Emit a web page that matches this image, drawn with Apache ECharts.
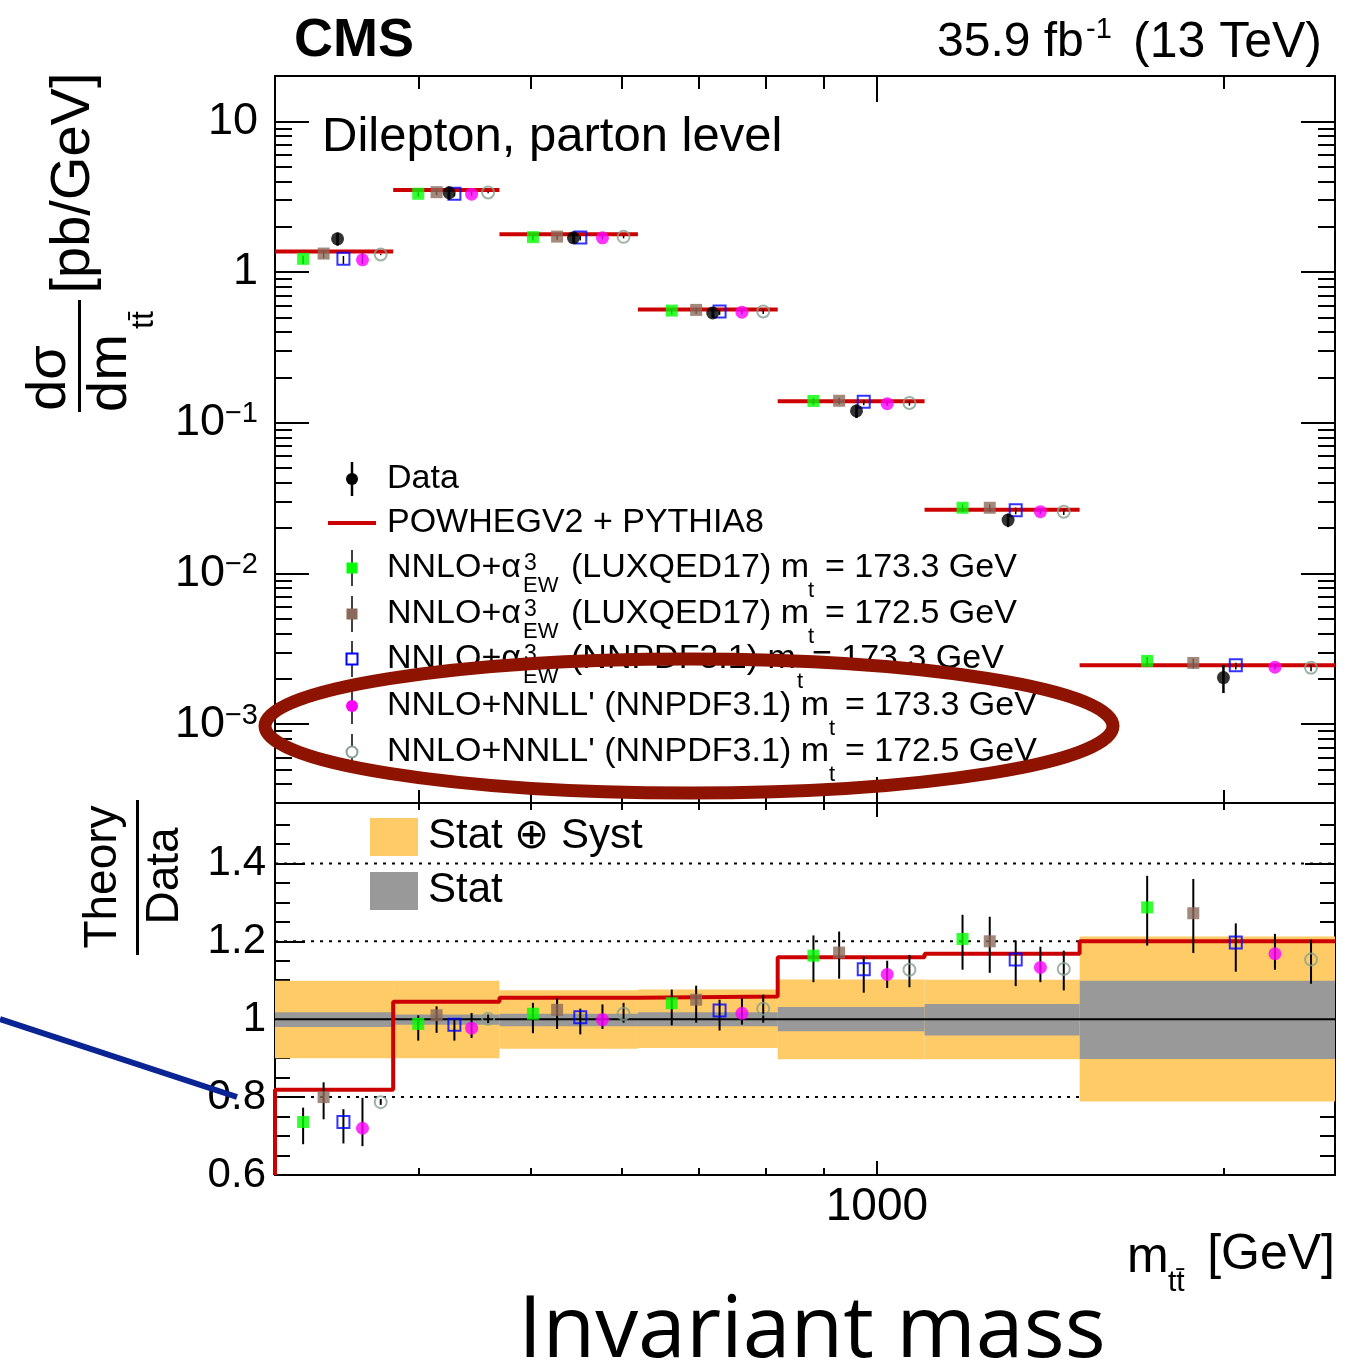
<!DOCTYPE html>
<html><head><meta charset="utf-8">
<script src="https://cdn.jsdelivr.net/npm/echarts@6/dist/echarts.min.js"></script>
<style>html,body{margin:0;padding:0;background:#fff}#c{width:1360px;height:1372px}</style>
</head><body><div id="c"></div>
<script>
// ---------------- DATA ----------------
const binEdges = [300, 380, 470, 620, 820, 1100, 1500, 2500];           // m_tt [GeV]
const xMajorTicks = [1000];
const xMinorTicks = [400, 500, 600, 700, 800, 900, 2000];
const yTopMajorTicks = [0.001, 0.01, 0.1, 1, 10];
const yTopMinorTicks = [0.0003,0.0004,0.0005,0.0006,0.0007,0.0008,0.0009,
  0.002,0.003,0.004,0.005,0.006,0.007,0.008,0.009,
  0.02,0.03,0.04,0.05,0.06,0.07,0.08,0.09,
  0.2,0.3,0.4,0.5,0.6,0.7,0.8,0.9,
  2,3,4,5,6,7,8,9];
const yRatioMajorTicks = [0.6, 0.8, 1.0, 1.2, 1.4];
const yRatioMinorTicks = [0.65,0.7,0.75,0.85,0.9,0.95,1.05,1.1,1.15,1.25,1.3,1.35,1.45,1.5];
const yRatioDotted = [0.8, 1.2, 1.4];

// top panel: dsigma/dm [pb/GeV]
const dataXsec   = [1.662, 3.36, 1.687, 0.536, 0.1198, 0.02263, 0.00204];
const powheg     = [1.368, 3.50, 1.785, 0.5636, 0.139, 0.02649, 0.002465];
const luxqed173  = [1.224, 3.31, 1.705, 0.555, 0.1396, 0.0273, 0.00263];
const luxqed172  = [1.327, 3.39, 1.720, 0.561, 0.1400, 0.0273, 0.00255];
const nnpdfEW173 = [1.224, 3.31, 1.695, 0.547, 0.1380, 0.02624, 0.00246];
const nnll173    = [1.205, 3.29, 1.687, 0.542, 0.1340, 0.0257, 0.00239];
const nnll172    = [1.307, 3.37, 1.713, 0.547, 0.1353, 0.0257, 0.00237];

// ratio panel: theory / data
const ratioPowheg     = [0.819, 1.045, 1.055, 1.058, 1.159, 1.168, 1.200];
const ratioLux173     = [0.736, 0.988, 1.014, 1.041, 1.163, 1.206, 1.287];
const ratioLux173Lo   = [0.679, 0.945, 0.964, 0.984, 1.095, 1.127, 1.189];
const ratioLux173Hi   = [0.773, 1.010, 1.042, 1.076, 1.215, 1.268, 1.368];
const ratioLux172     = [0.800, 1.010, 1.024, 1.050, 1.171, 1.200, 1.272];
const ratioLux172Lo   = [0.743, 0.965, 0.975, 0.991, 1.104, 1.119, 1.170];
const ratioLux172Hi   = [0.838, 1.033, 1.054, 1.086, 1.225, 1.263, 1.360];
const ratioEW173      = [0.736, 0.986, 1.005, 1.022, 1.128, 1.153, 1.197];
const ratioEW173Lo    = [0.681, 0.945, 0.961, 0.971, 1.068, 1.085, 1.122];
const ratioEW173Hi    = [0.769, 1.001, 1.027, 1.050, 1.160, 1.202, 1.246];
const ratioNnll173    = [0.720, 0.977, 0.999, 1.015, 1.115, 1.133, 1.168];
const ratioNnll173Lo  = [0.674, 0.952, 0.975, 0.986, 1.080, 1.095, 1.127];
const ratioNnll173Hi  = [0.798, 1.016, 1.038, 1.054, 1.150, 1.186, 1.219];
const ratioNnll172    = [0.787, 1.001, 1.014, 1.027, 1.127, 1.129, 1.153];
const ratioNnll172Lo  = [0.780, 0.990, 0.991, 0.991, 1.082, 1.074, 1.091];
const ratioNnll172Hi  = [0.795, 1.012, 1.042, 1.063, 1.165, 1.176, 1.204];
// data uncertainty bands (relative to data)
const totUp  = [1.099, 1.099, 1.074, 1.076, 1.102, 1.101, 1.212];
const totDn  = [0.900, 0.900, 0.924, 0.926, 0.897, 0.897, 0.789];
const statUp = [1.018, 1.012, 1.014, 1.018, 1.031, 1.039, 1.099];
const statDn = [0.980, 0.986, 0.982, 0.982, 0.969, 0.958, 0.898];

// horizontal placement of markers inside each bin (fraction of bin width)
const theoryFrac = [0.217, 0.383, 0.55, 0.717, 0.883];
const dataFrac = 0.5;

// ---------------- STYLE ----------------
const FONT = '"Liberation Sans", Arial, Helvetica, sans-serif';
const RED = '#cc0000', YEL = '#fecb66', GRB = '#999999';
const yTopMin = 3e-4, yTopMax = 20, yRatMin = 0.6, yRatMax = 1.555;

function binX(i, f) { return binEdges[i] + f * (binEdges[i + 1] - binEdges[i]); }

const theories = [
  { xsec: luxqed173, r: ratioLux173, lo: ratioLux173Lo, hi: ratioLux173Hi, symbol: 'rect', size: 12, color: '#00ff00', hollow: false },
  { xsec: luxqed172, r: ratioLux172, lo: ratioLux172Lo, hi: ratioLux172Hi, symbol: 'rect', size: 12, color: '#8c6a5b', hollow: false },
  { xsec: nnpdfEW173, r: ratioEW173, lo: ratioEW173Lo, hi: ratioEW173Hi, symbol: 'rect', size: 12, color: '#0000ff', hollow: true },
  { xsec: nnll173, r: ratioNnll173, lo: ratioNnll173Lo, hi: ratioNnll173Hi, symbol: 'circle', size: 13, color: '#ff00ff', hollow: false },
  { xsec: nnll172, r: ratioNnll172, lo: ratioNnll172Lo, hi: ratioNnll172Hi, symbol: 'circle', size: 12, color: '#86a08f', hollow: true }
];

const tickLine = { color: '#000', width: 2 };
function mkAxis(kind, gridIndex, position, type, min, max, values, length, label) {
  const a = {
    type, gridIndex, position, min, max,
    axisLine: { show: false, onZero: false },
    splitLine: { show: false },
    minorTick: { show: false },
    axisTick: { show: true, inside: true, length, lineStyle: tickLine, customValues: values },
    axisLabel: label ? Object.assign({ show: true, customValues: values, color: '#000', fontFamily: FONT }, label) : { show: false }
  };
  if (type === 'log') a.logBase = 10;
  return a;
}
const xMin = binEdges[0], xMax = binEdges[binEdges.length - 1];
const xAxes = [
  mkAxis('x', 0, 'bottom', 'log', xMin, xMax, xMajorTicks, 26),
  mkAxis('x', 0, 'bottom', 'log', xMin, xMax, xMinorTicks, 13),
  mkAxis('x', 0, 'top', 'log', xMin, xMax, xMajorTicks, 26),
  mkAxis('x', 0, 'top', 'log', xMin, xMax, xMinorTicks, 13),
  mkAxis('x', 1, 'bottom', 'log', xMin, xMax, xMajorTicks, 14, { fontSize: 46, margin: 9, formatter: v => String(Math.round(v)) }),
  mkAxis('x', 1, 'bottom', 'log', xMin, xMax, xMinorTicks, 7),
  mkAxis('x', 1, 'top', 'log', xMin, xMax, xMajorTicks, 14),
  mkAxis('x', 1, 'top', 'log', xMin, xMax, xMinorTicks, 7)
];
const topLabel = {
  margin: 17, fontSize: 45,
  formatter: v => {
    const e = Math.round(Math.log10(v));
    if (e === 1) return '{b|10}';
    if (e === 0) return '{b|1}';
    return '{b|10}{s|\u2212' + (-e) + '}';
  },
  rich: {
    b: { fontSize: 45, lineHeight: 46, fontFamily: FONT, color: '#000' },
    s: { fontSize: 29, lineHeight: 20, verticalAlign: 'top', fontFamily: FONT, color: '#000' }
  }
};
const yAxes = [
  mkAxis('y', 0, 'left', 'log', yTopMin, yTopMax, yTopMajorTicks, 34, topLabel),
  mkAxis('y', 0, 'left', 'log', yTopMin, yTopMax, yTopMinorTicks, 17),
  mkAxis('y', 0, 'right', 'log', yTopMin, yTopMax, yTopMajorTicks, 34),
  mkAxis('y', 0, 'right', 'log', yTopMin, yTopMax, yTopMinorTicks, 17),
  mkAxis('y', 1, 'left', 'value', yRatMin, yRatMax, yRatioMajorTicks, 30, { fontSize: 42, margin: 9, formatter: v => String(+(+v).toFixed(1)) }),
  mkAxis('y', 1, 'left', 'value', yRatMin, yRatMax, yRatioMinorTicks, 15),
  mkAxis('y', 1, 'right', 'value', yRatMin, yRatMax, yRatioMajorTicks, 30),
  mkAxis('y', 1, 'right', 'value', yRatMin, yRatMax, yRatioMinorTicks, 15)
];

// ---------------- RENDERERS ----------------
function errRender(width) {
  return function (params, api) {
    const a = api.coord([api.value(0), api.value(1)]);
    const b = api.coord([api.value(0), api.value(2)]);
    return { type: 'line', shape: { x1: a[0], y1: a[1], x2: b[0], y2: b[1] }, style: { stroke: '#000', lineWidth: width } };
  };
}
function segRender(color, width, dash) {
  return function (params, api) {
    const a = api.coord([api.value(0), api.value(2)]);
    const b = api.coord([api.value(1), api.value(2)]);
    return { type: 'line', shape: { x1: a[0], y1: a[1], x2: b[0], y2: b[1] }, style: { stroke: color, lineWidth: width, lineDash: dash || null } };
  };
}
function bandRender(color) {
  return function (params, api) {
    const a = api.coord([api.value(0), api.value(3)]);
    const b = api.coord([api.value(1), api.value(2)]);
    return { type: 'rect', shape: { x: a[0], y: a[1], width: b[0] - a[0], height: b[1] - a[1] }, style: { fill: color } };
  };
}
function markerStyle(t) {
  return t.hollow ? { color: 'rgba(0,0,0,0)', borderColor: t.color, borderWidth: 2 } : { color: t.color, borderWidth: 0 };
}

// ---------------- SERIES ----------------
const series = [];
// top panel
series.push({ type: 'custom', xAxisIndex: 0, yAxisIndex: 0, z: 2, renderItem: segRender(RED, 4),
  data: powheg.map((v, i) => [binEdges[i], binEdges[i + 1], v]) });
const topErr = [];
theories.forEach((t, k) => t.xsec.forEach((v, i) => topErr.push([binX(i, theoryFrac[k]), v * t.lo[i] / t.r[i], v * t.hi[i] / t.r[i]])));
series.push({ type: 'custom', xAxisIndex: 0, yAxisIndex: 0, z: 3, renderItem: errRender(1.5), data: topErr });
theories.forEach((t, k) => series.push({
  type: 'scatter', xAxisIndex: 0, yAxisIndex: 0, z: 4, symbol: t.symbol, symbolSize: t.size,
  itemStyle: markerStyle(t), data: t.xsec.map((v, i) => [binX(i, theoryFrac[k]), v])
}));
series.push({ type: 'custom', xAxisIndex: 0, yAxisIndex: 0, z: 5, renderItem: errRender(2.5),
  data: dataXsec.map((v, i) => [binX(i, dataFrac), v * totDn[i], v * totUp[i]]) });
series.push({ type: 'scatter', xAxisIndex: 0, yAxisIndex: 0, z: 6, symbol: 'circle', symbolSize: 13,
  itemStyle: { color: '#000' }, data: dataXsec.map((v, i) => [binX(i, dataFrac), v]) });

// ratio panel
series.push({ type: 'custom', xAxisIndex: 4, yAxisIndex: 4, z: 1, renderItem: segRender('#000', 2, [3, 6]),
  data: yRatioDotted.map(y => [xMin, xMax, y]) });
series.push({ type: 'custom', xAxisIndex: 4, yAxisIndex: 4, z: 2, renderItem: bandRender(YEL),
  data: totUp.map((u, i) => [binEdges[i], binEdges[i + 1], totDn[i], u]) });
series.push({ type: 'custom', xAxisIndex: 4, yAxisIndex: 4, z: 3, renderItem: bandRender(GRB),
  data: statUp.map((u, i) => [binEdges[i], binEdges[i + 1], statDn[i], u]) });
series.push({ type: 'custom', xAxisIndex: 4, yAxisIndex: 4, z: 4, renderItem: segRender('#000', 2),
  data: [[xMin, xMax, 1.0]] });
const stepPts = [[binEdges[0], yRatMin]];
ratioPowheg.forEach((r, i) => { stepPts.push([binEdges[i], r]); stepPts.push([binEdges[i + 1], r]); });
series.push({ type: 'line', xAxisIndex: 4, yAxisIndex: 4, z: 5, data: stepPts, symbol: 'none', showSymbol: false,
  clip: false, lineStyle: { color: RED, width: 4 } });
const ratErr = [];
theories.forEach((t, k) => t.r.forEach((v, i) => ratErr.push([binX(i, theoryFrac[k]), t.lo[i], t.hi[i]])));
series.push({ type: 'custom', xAxisIndex: 4, yAxisIndex: 4, z: 6, renderItem: errRender(2), data: ratErr });
theories.forEach((t, k) => series.push({
  type: 'scatter', xAxisIndex: 4, yAxisIndex: 4, z: 7, symbol: t.symbol, symbolSize: t.size,
  itemStyle: markerStyle(t), data: t.r.map((v, i) => [binX(i, theoryFrac[k]), v])
}));

// ---------------- GRAPHIC (texts, legend, annotations) ----------------
function txt(x, y, text, size, o) {
  o = o || {};
  const align = o.align || 'left', valign = o.valign || 'middle';
  const el = { type: 'text', x, y, z: 100, silent: true,
    style: { text, x: 0, y: 0, font: (o.bold ? 'bold ' : '') + size + 'px ' + (o.family || FONT), fill: o.color || '#000',
      textAlign: align, textVerticalAlign: valign, align, verticalAlign: valign } };
  if (o.rotation != null) el.rotation = o.rotation;
  return el;
}
const R90 = Math.PI / 2;
const g = [];
g.push(txt(294, 41, 'CMS', 54, { bold: true }));
g.push(txt(937, 43, '35.9 fb', 48));
g.push(txt(1086, 30, '-1', 29));
g.push(txt(1322, 43, '(13 TeV)', 50, { align: 'right' }));
g.push(txt(322, 137, 'Dilepton, parton level', 49));

// legend (top panel)
const rowY = [479, 523, 568, 614, 659, 706, 752];
const LX = 352, TX = 387, LF = 34;
g.push({ type: 'line', z: 100, shape: { x1: LX, y1: rowY[0] - 17, x2: LX, y2: rowY[0] + 17 }, style: { stroke: '#000', lineWidth: 2.5 } });
g.push({ type: 'circle', z: 101, shape: { cx: LX, cy: rowY[0], r: 6 }, style: { fill: '#000' } });
g.push({ type: 'line', z: 100, shape: { x1: 328, y1: rowY[1], x2: 376, y2: rowY[1] }, style: { stroke: RED, lineWidth: 4 } });
theories.forEach((t, k) => {
  const y = rowY[k + 2];
  g.push({ type: 'line', z: 100, shape: { x1: LX, y1: y - 18, x2: LX, y2: y + 18 }, style: { stroke: '#000', lineWidth: 1.5 } });
  const st = t.hollow ? { fill: '#fff', stroke: t.color, lineWidth: 2 } : { fill: t.color };
  if (t.symbol === 'rect') g.push({ type: 'rect', z: 101, shape: { x: LX - 5.5, y: y - 5.5, width: 11, height: 11 }, style: st });
  else g.push({ type: 'circle', z: 101, shape: { cx: LX, cy: y, r: t.hollow ? 5.5 : 6 }, style: st });
});
g.push(txt(TX, rowY[0], 'Data', LF));
g.push(txt(TX, rowY[1], 'POWHEGV2 + PYTHIA8', LF));
const ewRows = [
  { y: rowY[2], mid: '(LUXQED17) m', tx: 808, eq: 825, val: '= 173.3 GeV' },
  { y: rowY[3], mid: '(LUXQED17) m', tx: 808, eq: 825, val: '= 172.5 GeV' },
  { y: rowY[4], mid: '(NNPDF3.1) m', tx: 797, eq: 812, val: '= 173.3 GeV' }
];
ewRows.forEach(r => {
  g.push(txt(TX, r.y, 'NNLO+\u03b1', LF));
  g.push(txt(524, r.y - 4, '3', 23));
  g.push(txt(523, r.y + 18, 'EW', 22));
  g.push(txt(571, r.y, r.mid, LF));
  g.push(txt(r.tx, r.y + 23, 't', 22));
  g.push(txt(r.eq, r.y, r.val, LF));
});
[[rowY[5], '= 173.3 GeV'], [rowY[6], '= 172.5 GeV']].forEach(([y, val]) => {
  g.push(txt(TX, y, "NNLO+NNLL' (NNPDF3.1) m", LF));
  g.push(txt(829, y + 23, 't', 22));
  g.push(txt(845, y, val, LF));
});

// legend (ratio panel)
g.push({ type: 'rect', z: 100, shape: { x: 370, y: 818, width: 48, height: 38 }, style: { fill: YEL } });
g.push({ type: 'rect', z: 100, shape: { x: 370, y: 872, width: 48, height: 38 }, style: { fill: GRB } });
g.push(txt(428, 836, 'Stat \u2295 Syst', 42));
g.push(txt(428, 890, 'Stat', 42));

// axis titles
g.push(txt(74, 183, '[pb/GeV]', 56, { align: 'center', rotation: R90 }));
g.push(txt(50, 378, 'd\u03c3', 56, { align: 'center', rotation: R90 }));
g.push({ type: 'rect', z: 100, shape: { x: 78, y: 300, width: 3, height: 112 }, style: { fill: '#000' } });
g.push(txt(111, 373, 'dm', 56, { align: 'center', rotation: R90 }));
g.push(txt(144, 320, 'tt\u0304', 32, { align: 'center', rotation: R90 }));
g.push(txt(103, 877, 'Theory', 46, { align: 'center', rotation: R90 }));
g.push({ type: 'rect', z: 100, shape: { x: 136, y: 800, width: 3, height: 155 }, style: { fill: '#000' } });
g.push(txt(165, 876, 'Data', 46, { align: 'center', rotation: R90 }));
g.push(txt(1335, 1255, '[GeV]', 50, { align: 'right' }));
g.push(txt(1127, 1258, 'm', 50));
g.push(txt(1168, 1283, 'tt\u0304', 30));
g.push(txt(812, 1332, 'Invariant mass', 86, { align: 'center', family: '"Open Sans", "Noto Sans", sans-serif' }));

// annotations
g.push({ type: 'ellipse', z: 200, silent: true, shape: { cx: 689, cy: 726, rx: 424, ry: 67 }, style: { fill: 'none', stroke: '#8e1300', lineWidth: 13 } });
g.push({ type: 'line', z: 200, silent: true, shape: { x1: 0, y1: 1019, x2: 237, y2: 1097 }, style: { stroke: '#0a2494', lineWidth: 6 } });

// ---------------- CHART ----------------
const chart = echarts.init(document.getElementById('c'), null, { renderer: 'canvas' });
chart.setOption({
  animation: false,
  backgroundColor: '#fff',
  textStyle: { fontFamily: FONT },
  grid: [
    { left: 275, top: 76, width: 1060, height: 727, show: true, borderColor: '#000', borderWidth: 2, backgroundColor: 'rgba(0,0,0,0)', containLabel: false },
    { left: 275, top: 803, width: 1060, height: 372, show: true, borderColor: '#000', borderWidth: 2, backgroundColor: 'rgba(0,0,0,0)', containLabel: false }
  ],
  xAxis: xAxes,
  yAxis: yAxes,
  series,
  graphic: { elements: g }
});
</script></body></html>
